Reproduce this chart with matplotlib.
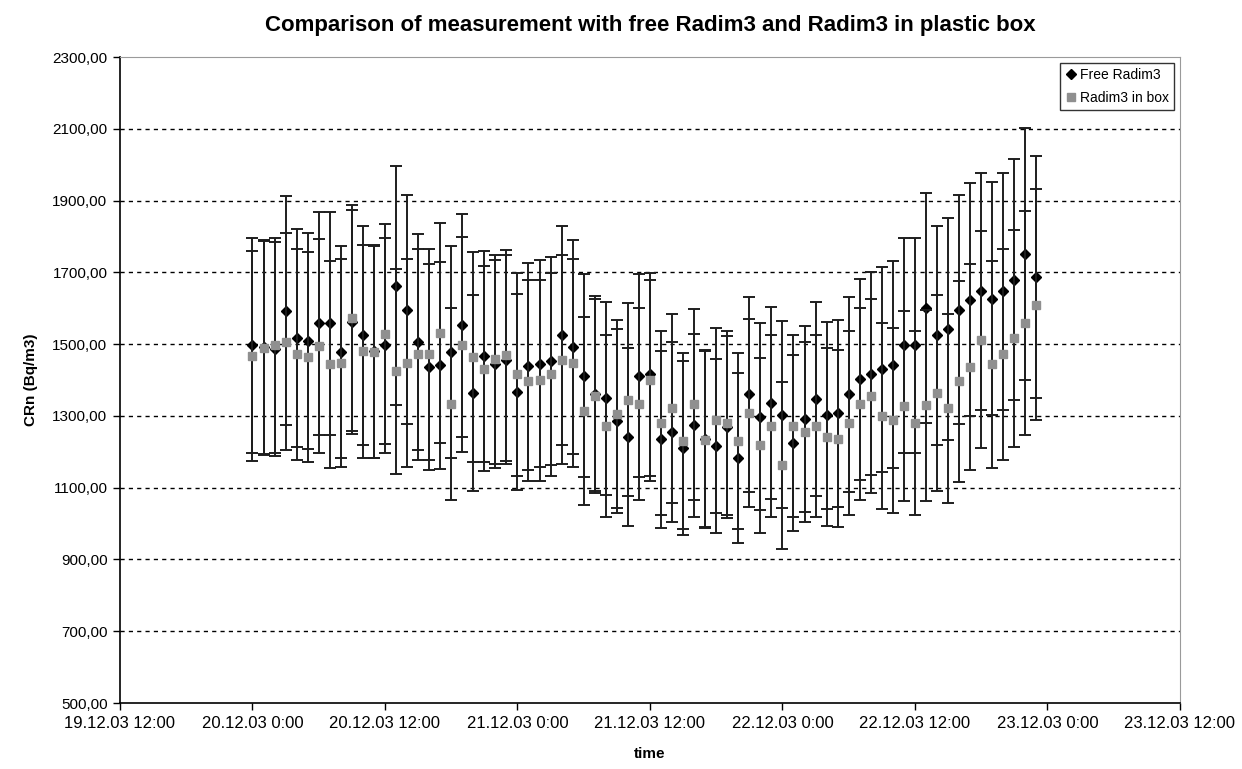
import numpy as np
import pandas as pd
import matplotlib
matplotlib.use("Agg")
import matplotlib.pyplot as plt
import matplotlib.dates as mdates
from matplotlib.lines import Line2D
from matplotlib.ticker import FuncFormatter

plt.rcParams["font.family"] = ["Liberation Sans", "DejaVu Sans"]

# hourly readings, 20.12.03 0:00 .. 22.12.03 23:00
start = "2003-12-20 00:00"
free_radim = [1497, 1493, 1487, 1593, 1517, 1509, 1558, 1558, 1477, 1562, 1525, 1480,
              1497, 1663, 1596, 1505, 1435, 1441, 1477, 1553, 1363, 1466, 1445, 1456,
              1367, 1438, 1446, 1453, 1525, 1493, 1412, 1362, 1349, 1286, 1240, 1412,
              1416, 1235, 1255, 1210, 1274, 1237, 1216, 1268, 1184, 1360, 1298, 1337,
              1303, 1224, 1291, 1347, 1302, 1307, 1360, 1402, 1418, 1430, 1442, 1497,
              1497, 1600, 1525, 1542, 1596, 1624, 1647, 1627, 1647, 1680, 1751, 1686]
box_radim = [1467, 1490, 1497, 1507, 1472, 1463, 1495, 1444, 1447, 1573, 1480, 1478,
             1528, 1424, 1447, 1472, 1472, 1531, 1333, 1499, 1464, 1432, 1458, 1469,
             1416, 1398, 1400, 1416, 1456, 1447, 1314, 1355, 1272, 1305, 1345, 1333,
             1400, 1280, 1321, 1230, 1332, 1233, 1288, 1280, 1230, 1309, 1218, 1272,
             1162, 1272, 1256, 1272, 1240, 1237, 1280, 1333, 1356, 1300, 1288, 1328,
             1281, 1330, 1365, 1321, 1396, 1435, 1512, 1444, 1472, 1516, 1559, 1610]
err_pct = 0.20  # percentage error bars
y_ticks = [500, 700, 900, 1100, 1300, 1500, 1700, 1900, 2100, 2300]

times = pd.date_range(start, periods=len(free_radim), freq="h")
free_radim = np.array(free_radim, float)
box_radim = np.array(box_radim, float)

BOXGREY = "#8f8f8f"

fig = plt.figure(figsize=(12.42, 7.69), dpi=100)
ax = fig.add_axes([0.0966, 0.0858, 0.8534, 0.840])

ax.errorbar(times, free_radim, yerr=free_radim * err_pct, fmt="D", ms=5.5,
            mfc="black", mec="black", ecolor="#1e1e1e", elinewidth=1.4,
            capsize=4.5, capthick=1.4, zorder=3)
ax.errorbar(times, box_radim, yerr=box_radim * err_pct, fmt="s", ms=5.5,
            mfc=BOXGREY, mec=BOXGREY, ecolor="#1e1e1e", elinewidth=1.4,
            capsize=4.5, capthick=1.4, zorder=4)

ax.set_xlim(pd.Timestamp("2003-12-19 12:00"), pd.Timestamp("2003-12-23 12:00"))
ax.set_ylim(y_ticks[0], y_ticks[-1])
ax.xaxis.set_major_locator(mdates.HourLocator(byhour=[0, 12]))
ax.xaxis.set_major_formatter(FuncFormatter(
    lambda v, p: (lambda d: f"{d:%d.%m.%y} {d.hour}:{d:%M}")(mdates.num2date(v))))
ax.set_yticks(y_ticks)
ax.yaxis.set_major_formatter(FuncFormatter(lambda v, p: f"{v:.2f}".replace(".", ",")))

for v in y_ticks[1:-1]:
    ax.axhline(v, color="black", linestyle=(0, (3, 3)), linewidth=1.0, zorder=1)
ax.tick_params(direction="out", length=5, width=1, labelsize=11, pad=4)
ax.tick_params(axis="x", labelsize=12)
for s in ["top", "right"]:
    ax.spines[s].set_color("#9a9a9a")
for s in ["left", "bottom"]:
    ax.spines[s].set_linewidth(1.2)

ax.set_title("Comparison of measurement with free Radim3 and Radim3 in plastic box",
             fontsize=16, fontweight="bold", pad=19)
ax.set_ylabel("CRn (Bq/m3)", fontsize=11, fontweight="bold", labelpad=10)
ax.set_xlabel("time", fontsize=11, fontweight="bold", labelpad=12)

handles = [Line2D([], [], ls="none", marker="D", ms=5, color="black"),
           Line2D([], [], ls="none", marker="s", ms=5.5, color=BOXGREY)]
leg = ax.legend(handles, ["Free Radim3", "Radim3 in box"], loc="upper right",
                fontsize=10, frameon=True, fancybox=False, edgecolor="black",
                handletextpad=0.2, borderpad=0.4, handlelength=0.8,
                labelspacing=0.6, borderaxespad=0.4)
leg.get_frame().set_linewidth(1.0)

fig.savefig("out.png", dpi=100)
